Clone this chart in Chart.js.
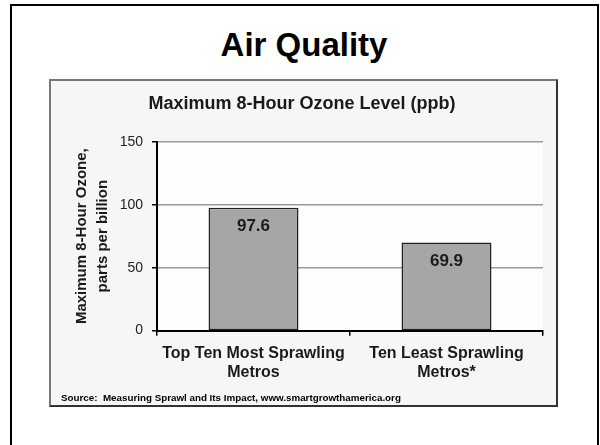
<!DOCTYPE html>
<html>
<head>
<meta charset="utf-8">
<script src="https://cdn.jsdelivr.net/npm/chart.js@4/dist/chart.umd.min.js"></script>
<style>
  html, body { margin: 0; padding: 0; background: #fff; overflow: hidden; }
  #page { position: relative; width: 600px; height: 445px; overflow: hidden; }
  #frame { position: absolute; left: 10px; top: 4px; width: 585px; height: 500px; border: 2px solid #000; }
  #heading { position: absolute; left: 0; top: 28px; width: 608px; text-align: center;
    font: bold 33px "Liberation Sans", Arial, sans-serif; line-height: 1; color: #000; }
  #box { position: absolute; left: 49px; top: 79px; width: 505px; height: 324px; background: #f6f6f6;
    border: 2px solid #777; border-right-color: #333; border-bottom-color: #333; }
  #totalchart { position: absolute; left: 0; top: 0; z-index: 2; }
</style>
</head>
<body>
<div id="page">
  <div id="frame"></div>
  <div id="heading">Air Quality</div>
  <div id="box"></div>
  <canvas id="totalchart" width="600" height="445"></canvas>
</div>
<script>
'use strict';
var categories = [['Top Ten Most Sprawling', 'Metros'], ['Ten Least Sprawling', 'Metros*']];
var ozoneValues = [97.6, 69.9];
var yTicks = [0, 50, 100, 150];

var font = '"Liberation Sans", Arial, sans-serif';

// light plot area behind the grid
var plotBackground = {
  id: 'plotBackground',
  beforeDraw: function(chart) {
    var a = chart.chartArea, ctx = chart.ctx;
    ctx.save();
    ctx.fillStyle = '#fdfdfd';
    ctx.fillRect(a.left, a.top, a.right - a.left, a.bottom - a.top);
    ctx.restore();
  }
};

// value written inside each bar
var barValues = {
  id: 'barValues',
  afterDatasetsDraw: function(chart) {
    var ctx = chart.ctx;
    var meta = chart.getDatasetMeta(0);
    ctx.save();
    ctx.font = 'bold 17px ' + font;
    ctx.fillStyle = '#1a1a1a';
    ctx.textAlign = 'center';
    ctx.textBaseline = 'middle';
    meta.data.forEach(function(bar, i) {
      ctx.fillText(ozoneValues[i].toFixed(1), bar.x, bar.y + 19);
    });
    ctx.restore();
  }
};

function newchart() {
  var ctx = document.getElementById('totalchart').getContext('2d');
  var chart = new Chart(ctx, {
    type: 'bar',
    data: {
      labels: categories,
      datasets: [{
        label: 'Maximum 8-Hour Ozone Level (ppb)',
        backgroundColor: '#a6a6a6',
        borderColor: '#222',
        borderWidth: 1.5,
        borderSkipped: false,
        barPercentage: 0.466,
        categoryPercentage: 1,
        data: ozoneValues
      }]
    },
    options: {
      responsive: false,
      animation: false,
      devicePixelRatio: 1,
      layout: { padding: { left: 61, right: 57, top: 0, bottom: 41 } },
      plugins: {
        legend: { display: false },
        tooltip: { enabled: false },
        title: {
          display: true,
          text: 'Maximum 8-Hour Ozone Level (ppb)',
          color: '#1a1a1a',
          font: { family: font, size: 18, weight: 'bold', lineHeight: 1.2 },
          padding: { top: 93.2, bottom: 26.9 }
        },
        subtitle: {
          display: true,
          position: 'bottom',
          align: 'start',
          text: 'Source:  Measuring Sprawl and Its Impact, www.smartgrowthamerica.org',
          color: '#000',
          font: { family: font, size: 9.8, weight: 'bold', lineHeight: 1.2 },
          padding: { top: 10.6, bottom: 0 }
        }
      },
      scales: {
        x: {
          afterFit: function(s) { s.height = 51; },
          border: { color: '#000', width: 2 },
          grid: {
            color: function(c) { return c.index === categories.length ? '#999' : 'rgba(0,0,0,0)'; },
            lineWidth: 1.5,
            tickColor: '#000',
            tickLength: 5
          },
          ticks: {
            color: '#1a1a1a',
            padding: 8,
            font: { family: font, size: 16, weight: 'bold', lineHeight: '19px' }
          }
        },
        y: {
          min: 0,
          max: 150,
          afterFit: function(s) { s.width = 96; },
          afterBuildTicks: function(s) { s.ticks = yTicks.map(function(v) { return { value: v }; }); },
          border: { color: '#000', width: 2 },
          grid: { color: '#999', lineWidth: 1.5, tickColor: '#000', tickLength: 5 },
          ticks: {
            color: '#222',
            padding: 9,
            font: { family: font, size: 14 }
          },
          title: {
            display: true,
            text: ['Maximum 8-Hour Ozone,', 'parts per billion'],
            color: '#1a1a1a',
            font: { family: font, size: 15, weight: 'bold', lineHeight: '21px' },
            padding: { top: 10.5, bottom: 0 }
          }
        }
      }
    },
    plugins: [plotBackground, barValues]
  });
}
newchart();
</script>
</body>
</html>
